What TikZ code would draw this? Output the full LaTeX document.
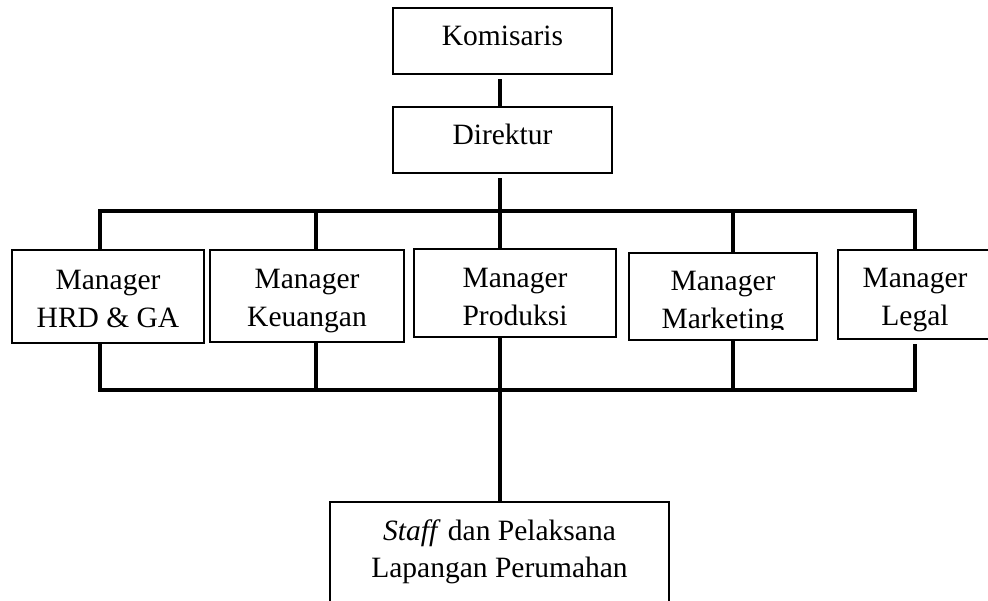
\documentclass[tikz,border=0pt]{standalone}
\usepackage{fontspec}
\setmainfont{Liberation Serif}
\usetikzlibrary{calc}
\newcommand{\tstr}[1]{\rule{0pt}{#1pt}}
\newcommand{\bstr}{\rule[-8pt]{0pt}{8pt}}
\begin{document}
\begin{tikzpicture}[x=1pt,y=-1pt,
  box/.style={draw, line width=1.3pt, inner sep=0pt, outer sep=0pt, align=center,
    font=\fontsize{29.5}{37.5}\selectfont},
  onebox/.style={box, text height=20pt, text depth=11pt},
  conn/.style={line width=4pt}]
\useasboundingbox (0,0) rectangle (988,600);
\clip (0,0) rectangle (988,600);

\node[onebox, minimum width=219pt, minimum height=66pt] (kom) at (502.5,41) {Komisaris};
\node[onebox, minimum width=219pt, minimum height=66pt] (dir) at (502.5,140) {Direktur};

\node[box, minimum width=192pt, minimum height=93pt] (hrd) at (108,296.5) {\tstr{31.5}Manager\\HRD \& GA\bstr};
\node[box, minimum width=194pt, minimum height=92pt] (keu) at (307,296) {\tstr{30.5}Manager\\Keuangan\bstr};
\node[box, minimum width=202pt, minimum height=88pt] (prod) at (515,293) {\tstr{34.5}Manager\\Produksi\bstr};
\node[box, minimum width=188pt, minimum height=87pt] (mkt) at (723,296.5) {\tstr{34.1}Manager\\Marketing\bstr};
\node[box, minimum width=154pt, minimum height=89pt] (leg) at (915,294.5) {\tstr{31.5}Manager\\Legal\bstr};

\node[box, minimum width=339pt, minimum height=100pt] (staff) at (499.5,552) {\textit{Staff} dan Pelaksana\\Lapangan Perumahan};

% descenders cut off at the bottom of two boxes, as in the original
\fill[white] ($(mkt.south west)+(1.5,-1.5)$) rectangle ($(mkt.east |- 0,329.5)+(-1.5,0)$);
\draw[line width=1.3pt] (mkt.south west) rectangle (mkt.north east);
\fill[white] ($(leg.south west)+(1.5,-1.5)$) rectangle ($(leg.east |- 0,332.5)+(-1.5,0)$);
\draw[line width=1.3pt] (leg.south west) rectangle (leg.north east);

\coordinate (tb) at (500,211);
\coordinate (bb) at (500,390);

% top connectors
\draw[conn] ([xshift=-2.5pt,yshift=-5pt]kom.south) -- ([xshift=-2.5pt]dir.north);
\draw[conn] (hrd.north -| 100,0) |- (tb -| leg.north) -- (leg.north);
\draw[conn] ([xshift=-2.5pt,yshift=-5pt]dir.south) -- (prod.north -| tb);
\draw[conn] (keu.north -| 316,0) -- (tb -| 316,0);
\draw[conn] (mkt.north -| 733,0) -- (tb -| 733,0);

% bottom connectors
\draw[conn] (hrd.south -| 100,0) |- (bb -| leg.south) -- ([yshift=-5pt]leg.south);
\draw[conn] (keu.south -| 316,0) -- (bb -| 316,0);
\draw[conn] (mkt.south -| 733,0) -- (bb -| 733,0);
\draw[conn] (prod.south -| bb) -- (staff.north -| bb);
\end{tikzpicture}
\end{document}
